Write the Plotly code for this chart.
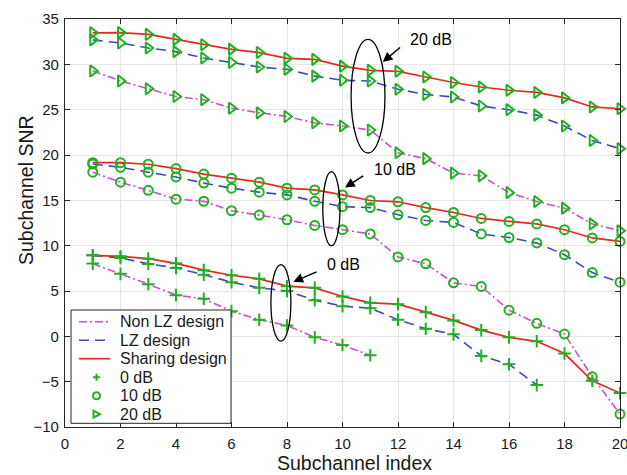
import plotly.graph_objects as go

# ---------------- data ----------------
subch = list(range(1, 21))

nonlz_0 = [8.02, 6.89, 5.75, 4.54, 4.14, 2.78, 1.83, 1.2, -0.11, -0.96, -2.09]
lz_0 = [8.93, 8.65, 7.99, 7.55, 6.8, 5.97, 5.35, 5.0, 3.99, 3.33, 3.11, 1.83, 0.84, 0.22, -2.16, -3.08, -5.38]
sh_0 = [8.93, 8.82, 8.57, 8.05, 7.3, 6.74, 6.34, 5.53, 5.35, 4.4, 3.7, 3.55, 2.67, 1.76, 0.69, -0.11, -0.55, -1.9, -4.9, -6.26]

nonlz_10 = [18.1, 17.0, 16.1, 15.13, 14.9, 13.85, 13.37, 12.86, 12.23, 11.76, 11.29, 8.76, 8.0, 5.9, 5.5, 2.89, 1.43, 0.25, -4.47, -8.57]
lz_10 = [19.0, 18.65, 18.1, 17.58, 16.9, 16.34, 15.9, 15.6, 14.9, 14.3, 14.2, 13.4, 12.78, 12.56, 11.29, 10.9, 10.3, 9.0, 7.03, 5.97]
sh_10 = [19.15, 19.15, 18.98, 18.5, 17.9, 17.44, 17.0, 16.34, 16.15, 15.6, 14.98, 14.84, 14.2, 13.66, 13.0, 12.67, 12.4, 11.76, 10.85, 10.47]

nonlz_20 = [29.27, 28.17, 27.3, 26.45, 26.1, 25.16, 24.65, 24.25, 23.55, 23.2, 22.75, 20.25, 19.6, 18.0, 17.7, 15.85, 14.87, 14.14, 12.4, 11.65]
lz_20 = [32.7, 32.35, 31.8, 31.4, 30.7, 30.2, 29.7, 29.45, 28.7, 28.24, 28.17, 27.25, 26.67, 26.4, 25.4, 25.0, 24.4, 23.2, 21.6, 20.7]
sh_20 = [33.48, 33.5, 33.3, 32.75, 32.16, 31.65, 31.3, 30.66, 30.55, 29.8, 29.34, 29.23, 28.6, 28.0, 27.5, 27.14, 26.9, 26.3, 25.3, 25.1]

design_names = ["Non LZ design", "LZ design", "Sharing design"]
snr_names = ["0 dB", "10 dB", "20 dB"]
x_ticks = list(range(0, 21, 2))
y_ticks = list(range(-10, 36, 5))

# ---------------- styles ----------------
FONT = "Liberation Sans, Arial, Helvetica, sans-serif"
GREEN = "#21b021"
design_style = {
    "Non LZ design": dict(color="#cc4fcc", dash="8px,3px,2px,3px", width=1.6),
    "LZ design": dict(color="#3c4abf", dash="10px,6px", width=1.6),
    "Sharing design": dict(color="#e8281e", dash="solid", width=1.7),
}
snr_symbol = {"0 dB": "cross-thin-open", "10 dB": "circle-open", "20 dB": "triangle-right-open"}
snr_size = {"0 dB": 9, "10 dB": 9, "20 dB": 10}

series = {
    ("Non LZ design", "0 dB"): nonlz_0, ("LZ design", "0 dB"): lz_0, ("Sharing design", "0 dB"): sh_0,
    ("Non LZ design", "10 dB"): nonlz_10, ("LZ design", "10 dB"): lz_10, ("Sharing design", "10 dB"): sh_10,
    ("Non LZ design", "20 dB"): nonlz_20, ("LZ design", "20 dB"): lz_20, ("Sharing design", "20 dB"): sh_20,
}

fig = go.Figure()
for snr in snr_names:
    for d in design_names:
        yv = series[(d, snr)]
        st = design_style[d]
        fig.add_trace(go.Scatter(
            x=subch[:len(yv)], y=yv, mode="lines+markers", showlegend=False,
            line=dict(color=st["color"], dash=st["dash"], width=st["width"]),
            marker=dict(symbol=snr_symbol[snr], size=snr_size[snr], color=GREEN,
                        line=dict(color=GREEN, width=2)),
            cliponaxis=False,
        ))

# ---------------- geometry helpers ----------------
W, H = 627, 475
ML, MR, MT, MB = 65, 7, 19, 48
PW, PH = W - ML - MR, H - MT - MB


def px_x(px):
    return (px - ML) / PW


def px_y(py):
    return (H - MB - py) / PH


shapes = []
annotations = []

# ---------------- manual legend ----------------
shapes.append(dict(type="rect", xref="paper", yref="paper", layer="above",
                   x0=px_x(71), x1=px_x(231), y0=px_y(423.3), y1=px_y(310),
                   fillcolor="white", line=dict(color="#262626", width=1)))
legend_rows = design_names + snr_names
row_y0, row_dy = 321.7, 18.5
for i, name in enumerate(legend_rows):
    cy = row_y0 + i * row_dy
    if name in design_style:
        st = design_style[name]
        shapes.append(dict(type="line", xref="paper", yref="paper", layer="above",
                           x0=px_x(79), x1=px_x(110), y0=px_y(cy), y1=px_y(cy),
                           line=dict(color=st["color"], width=st["width"], dash=st["dash"])))
    else:
        cx = 96.5
        r = 3.5
        if name == "0 dB":
            shapes.append(dict(type="path", xref="paper", yref="paper", layer="above",
                               path=f"M {px_x(cx - r)} {px_y(cy)} L {px_x(cx + r)} {px_y(cy)} "
                                    f"M {px_x(cx)} {px_y(cy - r)} L {px_x(cx)} {px_y(cy + r)}",
                               line=dict(color=GREEN, width=2)))
        elif name == "10 dB":
            shapes.append(dict(type="circle", xref="paper", yref="paper", layer="above",
                               x0=px_x(cx - r), x1=px_x(cx + r), y0=px_y(cy + r), y1=px_y(cy - r),
                               line=dict(color=GREEN, width=2)))
        else:
            shapes.append(dict(type="path", xref="paper", yref="paper", layer="above",
                               path=f"M {px_x(cx - 3)} {px_y(cy - 3.5)} L {px_x(cx + 3.5)} {px_y(cy)} "
                                    f"L {px_x(cx - 3)} {px_y(cy + 3.5)} Z",
                               line=dict(color=GREEN, width=2)))
    annotations.append(dict(xref="paper", yref="paper", x=px_x(117.5), y=px_y(cy),
                            xanchor="left", yanchor="middle", showarrow=False, text=name,
                            font=dict(family=FONT, size=16, color="#1a1a1a")))

# ---------------- ellipses, arrows and labels ----------------
callouts = [
    dict(e=(10.31, 11.53, 20.22, 32.75), tip=(11.45, 30.25), tail=(12.13, 32.0), lab=(12.36, 32.75), text="20 dB"),
    dict(e=(9.29, 9.91, 10.0, 18.16), tip=(10.09, 16.41), tail=(10.8, 17.8), lab=(11.06, 18.35), text="10 dB"),
    dict(e=(7.42, 8.14, -0.52, 7.91), tip=(8.23, 6.01), tail=(9.12, 7.18), lab=(9.37, 7.91), text="0 dB"),
]
for c in callouts:
    x0, x1, y0, y1 = c["e"]
    shapes.append(dict(type="circle", xref="x", yref="y", layer="above",
                       x0=x0, x1=x1, y0=y0, y1=y1, line=dict(color="black", width=1.3)))
    annotations.append(dict(xref="x", yref="y", axref="x", ayref="y",
                            x=c["tip"][0], y=c["tip"][1], ax=c["tail"][0], ay=c["tail"][1],
                            text="", showarrow=True, arrowhead=2, arrowsize=1.3,
                            arrowwidth=1.5, arrowcolor="black"))
    annotations.append(dict(xref="x", yref="y", x=c["lab"][0], y=c["lab"][1],
                            xanchor="left", yanchor="middle", showarrow=False, text=c["text"],
                            font=dict(family=FONT, size=16, color="black")))

# axis titles
annotations.append(dict(xref="paper", yref="paper", x=px_x(354), y=px_y(463),
                        xanchor="center", yanchor="middle", showarrow=False,
                        text="Subchannel index", font=dict(family=FONT, size=19.5, color="#1a1a1a")))
annotations.append(dict(xref="paper", yref="paper", x=px_x(26), y=px_y(190),
                        xanchor="center", yanchor="middle", showarrow=False, textangle=-90,
                        text="Subchannel SNR", font=dict(family=FONT, size=19.5, color="#1a1a1a")))

axis_common = dict(showgrid=True, gridcolor="#e6e6e6", gridwidth=1, zeroline=False,
                   showline=True, linecolor="#262626", linewidth=1.2, mirror="allticks",
                   ticks="inside", ticklen=5, tickcolor="#262626", tickwidth=1.2,
                   ticklabeloverflow="allow", automargin=False,
                   tickfont=dict(family=FONT, size=15, color="#1a1a1a"))

fig.update_layout(
    width=W, height=H,
    margin=dict(l=ML, r=MR, t=MT, b=MB, pad=0, autoexpand=False),
    paper_bgcolor="white", plot_bgcolor="white",
    showlegend=False,
    xaxis=dict(range=[0, 20], tickvals=x_ticks, ticklabelstandoff=3, **axis_common),
    yaxis=dict(range=[-10, 35], tickvals=y_ticks, ticklabelstandoff=2, **axis_common),
    shapes=shapes, annotations=annotations,
)

fig.write_html("out.html")
